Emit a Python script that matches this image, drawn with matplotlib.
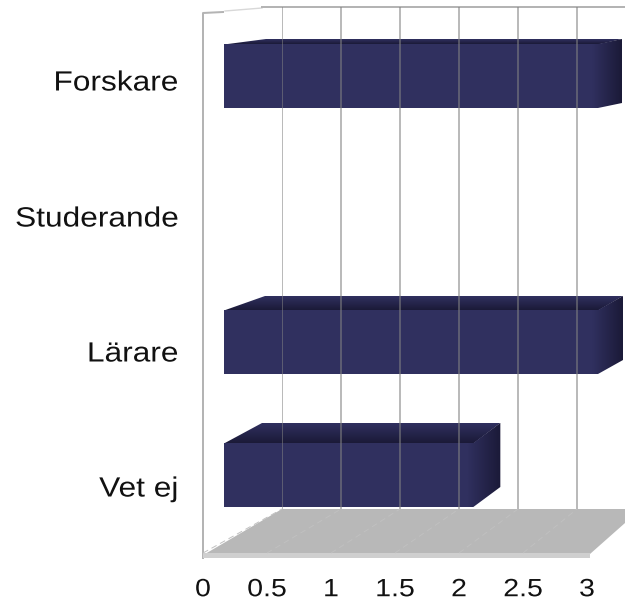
import numpy as np
import matplotlib
matplotlib.use('Agg')
import matplotlib.pyplot as plt
from matplotlib.patches import Polygon
from matplotlib.patheffects import AbstractPathEffect
from matplotlib.transforms import Affine2D, ScaledTranslation

W, H = 625, 602

categories = ['Forskare', 'Studerande', 'Lärare', 'Vet ej']
values = [3, 0, 3, 2]
x_ticks = [0, 0.5, 1, 1.5, 2, 2.5, 3]
x_tick_labels = ['0', '0.5', '1', '1.5', '2', '2.5', '3']
grid_ticks = [0, 0.5, 1, 1.5, 2, 2.5]

# bar depth in pixels, the chart has perspective so it differs per bar
depth_right = [24, 0, 25, 27]
depth_left = [42, 0, 41, 38]
depth_up = [5, 0, 14, 20]
# labels sit a little further apart than the bars
label_shift = [4.5, 7.5, 9.5, 11.5]

BAR_FRONT = '#30305f'
BAR_DARK = '#1b1a38'


class StretchX(AbstractPathEffect):
    """Widen text horizontally, the original was rendered stretched."""

    def __init__(self, sx, anchor):
        super().__init__()
        self.sx = sx
        self.anchor = anchor

    def draw_path(self, renderer, gc, tpath, affine, rgbFace=None):
        ext = tpath.get_extents(affine)
        x0 = ext.x0 + self.anchor * ext.width
        stretched = affine + Affine2D().translate(-x0, 0).scale(self.sx, 1).translate(x0, 0)
        renderer.draw_path(gc, tpath, stretched, rgbFace)


def px_axes(x0, y0, x1, y1, **kw):
    """Axes from pixel box, y counted from the top of the image."""
    return fig.add_axes([x0 / W, 1 - y1 / H, (x1 - x0) / W, (y1 - y0) / H], **kw)


def gradient_face(ax, poly, extent, colors, horizontal):
    ramp = np.linspace(0, 1, 32)
    c0 = np.array(matplotlib.colors.to_rgb(colors[0]))
    c1 = np.array(matplotlib.colors.to_rgb(colors[1]))
    rgb = c0 + (c1 - c0) * ramp[:, None]
    img = rgb[None, :, :] if horizontal else rgb[:, None, :]
    im = ax.imshow(img, extent=extent, aspect='auto', origin='upper',
                   interpolation='bilinear', zorder=4)
    patch = Polygon(poly, closed=True, transform=ax.transData, fc='none', ec='none')
    ax.add_patch(patch)
    im.set_clip_path(patch)


plt.rcParams['font.family'] = ['Liberation Sans', 'DejaVu Sans']
fig = plt.figure(figsize=(W / 100, H / 100), dpi=100, facecolor='white')
px = Affine2D().scale(1, -1).translate(0, H)

# bars, value 0 at x=224 and 3 at x=598, rows 133 px apart
ax = px_axes(203, 0, W, H, zorder=1)
ax.patch.set_visible(False)
sx = 374 / 3
sy = 133
xlim = ((203 - 224) / sx, (W - 224) / sx)
ylim = ((H - 76) / sy, -76 / sy)
half = 32 / sy

for i, v in enumerate(values):
    if v == 0:
        continue
    dxr, dxl, dy = depth_right[i] / sx, depth_left[i] / sx, depth_up[i] / sy
    top, bot = i - half, i + half
    ax.barh(i, v, height=2 * half, color=BAR_FRONT, zorder=3)
    gradient_face(ax, [(0, top + 0.5 / sy), (dxl, top - dy), (v + dxr, top - dy), (v, top + 0.5 / sy)],
                  [0, v + dxr, top, top - dy], (BAR_FRONT, BAR_DARK), False)
    # start the side ramp a bit inside the front so the edge stays soft
    soft = 6 / sx
    gradient_face(ax, [(v - soft, top), (v, top), (v + dxr, top - dy), (v + dxr, bot - dy), (v, bot), (v - soft, bot)],
                  [v - soft, v + dxr, bot, top - dy], (BAR_FRONT, BAR_DARK), True)

ax.set_xlim(xlim)
ax.set_ylim(ylim)
ax.set_xticks([])
ax.set_yticks(range(len(categories)), categories, fontsize=20, color='#111111')
ax.tick_params(axis='y', length=0, pad=18)
for s in ax.spines.values():
    s.set_visible(False)
for label, shift in zip(ax.get_yticklabels(), label_shift):
    label.set_transform(label.get_transform() + ScaledTranslation(0, -shift / 100, fig.dpi_scale_trans))
    label.set_path_effects([StretchX(1.14, 1.0)])

# back wall grid and floor
back = px_axes(282, 7, W, 509, zorder=2)
back.patch.set_visible(False)
back.set_xlim(0, (W - 282) / 118)
back.set_ylim(0, 1)
back.set_xticks(grid_ticks)
back.set_yticks([])
back.tick_params(axis='x', length=0, labelbottom=False)
back.grid(axis='x', color='#828282', alpha=0.55, lw=1.44)
back.set_axisbelow(False)
for s in back.spines.values():
    s.set_visible(False)

for pts, col, z in [
    ([(205, 554), (282, 509), (W, 509), (W, 523), (590, 554)], '#b8b8b8', 4),
    ([(203, 553), (590, 553), (590, 558), (203, 558)], '#cfcfcf', 4),
]:
    back.add_patch(Polygon(pts, closed=True, fc=col, ec='none', transform=px,
                           clip_on=False, zorder=z))

# faint lines on the floor
for k in grid_ticks:
    front_x = 203 + 128 * k
    back_x = 282 + 118 * k
    back.plot([front_x, back_x], [553, 509], color='#c0c0c0', lw=0.7, ls=(0, (6, 4)),
              transform=px, clip_on=False, zorder=5)

wall = dict(color='#b4b4b4', transform=px, clip_on=False, zorder=1)
back.plot([203, 203, 223], [558, 13, 12], lw=1.44, **wall)
back.plot([225, 262], [11, 8], lw=1, color='#d8d8d8', transform=px, clip_on=False, zorder=1)
back.plot([262, W], [7, 7], lw=1.44, **wall)

# value labels along the front edge
front = px_axes(203, 540, 587, 555, zorder=3)
front.patch.set_visible(False)
front.set_xlim(0, 3)
front.set_yticks([])
front.set_xticks(x_ticks, x_tick_labels, fontsize=18, color='#111111')
front.tick_params(axis='x', length=0, pad=16)
for s in front.spines.values():
    s.set_visible(False)
for label in front.get_xticklabels():
    label.set_path_effects([StretchX(1.14, 0.5)])

fig.savefig('out.png', dpi=100)
